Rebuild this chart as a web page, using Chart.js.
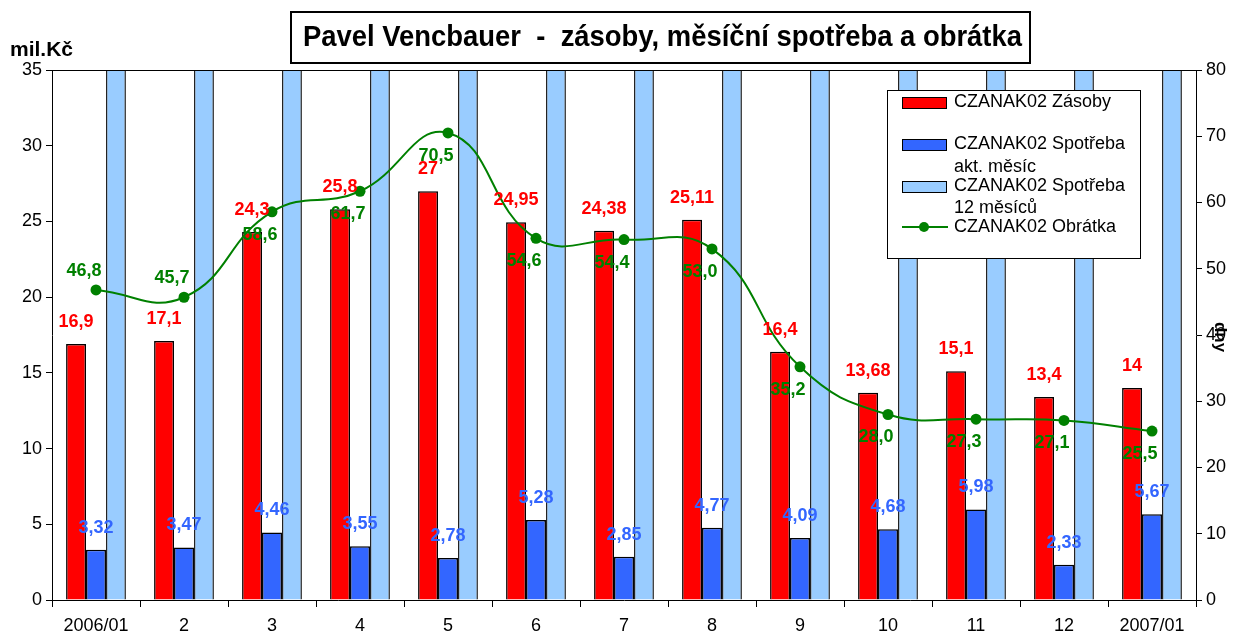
<!DOCTYPE html>
<html>
<head>
<meta charset="utf-8">
<script src="https://cdn.jsdelivr.net/npm/chart.js@4/dist/chart.umd.min.js"></script>
<style>
  body { margin: 0; background: #fff; }
  #wrap { width: 1242px; height: 635px; position: relative; }
</style>
</head>
<body>
<div id="wrap"><canvas id="chart"></canvas></div>
<script>
const months = ['2006/01', '2', '3', '4', '5', '6', '7', '8', '9', '10', '11', '12', '2007/01'];
const zasoby = [16.9, 17.1, 24.3, 25.8, 27, 24.95, 24.38, 25.11, 16.4, 13.68, 15.1, 13.4, 14];
const spotrebaMesic = [3.32, 3.47, 4.46, 3.55, 2.78, 5.28, 2.85, 4.77, 4.09, 4.68, 5.98, 2.33, 5.67];
// 12-month consumption runs off the top of the scale, values are estimates
const spotreba12 = [131.8, 136.6, 151.4, 152.6, 139.8, 166.8, 163.6, 172.9, 170.1, 178.3, 201.9, 180.5, 200.4];
const obratka = [46.8, 45.7, 58.6, 61.7, 70.5, 54.6, 54.4, 53.0, 35.2, 28.0, 27.3, 27.1, 25.5];
const leftTicks = [0, 5, 10, 15, 20, 25, 30, 35];
const rightTicks = [0, 10, 20, 30, 40, 50, 60, 70, 80];

const FONT = '"Liberation Sans", Arial, sans-serif';
Chart.defaults.font.family = FONT;
Chart.defaults.color = '#000';

// draw text squeezed/stretched to a given width
function fitText(ctx, text, x, y, width) {
  const w = ctx.measureText(text).width;
  ctx.save();
  ctx.translate(x, y);
  ctx.scale(width / w, 1);
  ctx.fillText(text, 0, 0);
  ctx.restore();
}

const labelsPlugin = {
  id: 'valueLabels',
  afterDatasetsDraw(chart) {
    const ctx = chart.ctx;
    ctx.save();
    ctx.font = 'bold 18px ' + FONT;
    ctx.textAlign = 'center';
    ctx.textBaseline = 'middle';
    chart.data.datasets.forEach((ds, di) => {
      if (!ds.labelColor) return;
      const meta = chart.getDatasetMeta(di);
      ctx.fillStyle = ds.labelColor;
      meta.data.forEach((el, i) => {
        const v = ds.data[i];
        let txt, x = el.x, y;
        if (ds.type === 'line') {
          txt = v.toFixed(1).replace('.', ',');
          x = el.x - 12;
          y = i < 2 ? el.y - 19 : el.y + 23;
        } else {
          txt = String(v).replace('.', ',');
          y = el.y - 22;
        }
        ctx.fillText(txt, x, y);
      });
    });
    ctx.restore();
  }
};

const decorPlugin = {
  id: 'decor',
  afterDraw(chart) {
    const ctx = chart.ctx;
    const a = chart.chartArea;
    ctx.save();
    // plot top border
    ctx.strokeStyle = '#000';
    ctx.lineWidth = 1;
    ctx.beginPath();
    ctx.moveTo(a.left, Math.round(a.top) + 0.5);
    ctx.lineTo(a.right, Math.round(a.top) + 0.5);
    ctx.stroke();

    // title box
    ctx.fillStyle = '#fff';
    ctx.fillRect(291, 12, 739, 51);
    ctx.lineWidth = 2;
    ctx.strokeRect(291, 12, 739, 51);
    ctx.fillStyle = '#000';
    ctx.font = 'bold 30px ' + FONT;
    ctx.textBaseline = 'middle';
    ctx.textAlign = 'left';
    fitText(ctx, 'Pavel Vencbauer  -  zásoby, měsíční spotřeba a obrátka', 303, 38, 719);

    // axis units
    ctx.font = 'bold 21px ' + FONT;
    ctx.fillText('mil.Kč', 10, 50);
    ctx.save();
    ctx.translate(1220, 337);
    ctx.rotate(Math.PI / 2);
    ctx.textAlign = 'center';
    ctx.font = 'bold 17px ' + FONT;
    ctx.fillText('dny', 0, 0);
    ctx.restore();

    // legend
    ctx.lineWidth = 1;
    ctx.fillStyle = '#fff';
    ctx.fillRect(887.5, 90.5, 253, 168);
    ctx.strokeStyle = '#000';
    ctx.strokeRect(887.5, 90.5, 253, 168);
    const ds = chart.data.datasets;
    const swatch = (color, y) => {
      ctx.fillStyle = color;
      ctx.fillRect(902, y, 44, 11);
      ctx.strokeStyle = '#000';
      ctx.strokeRect(902.5, y + 0.5, 44, 11);
    };
    swatch(ds[1].backgroundColor, 97);
    swatch(ds[2].backgroundColor, 139);
    swatch(ds[3].backgroundColor, 181);
    ctx.strokeStyle = ds[0].borderColor;
    ctx.lineWidth = 2;
    ctx.beginPath();
    ctx.moveTo(902, 227);
    ctx.lineTo(948, 227);
    ctx.stroke();
    ctx.fillStyle = ds[0].borderColor;
    ctx.beginPath();
    ctx.arc(924, 227, 5, 0, Math.PI * 2);
    ctx.fill();

    ctx.fillStyle = '#000';
    ctx.font = '18px ' + FONT;
    ctx.textAlign = 'left';
    ctx.textBaseline = 'middle';
    ctx.fillText(ds[1].label, 954, 102);
    ctx.fillText(ds[2].label, 954, 144);
    ctx.fillText('akt. měsíc', 954, 167);
    ctx.fillText(ds[3].label, 954, 186);
    ctx.fillText('12 měsíců', 954, 208);
    ctx.fillText(ds[0].label, 954, 227);
    ctx.restore();
  }
};

new Chart(document.getElementById('chart'), {
  data: {
    labels: months,
    datasets: [
      {
        type: 'line', label: 'CZANAK02 Obrátka', data: obratka, yAxisID: 'y2',
        borderColor: '#008000', backgroundColor: '#008000', borderWidth: 2,
        pointRadius: 5.5, pointBackgroundColor: '#008000', pointBorderWidth: 0,
        tension: 0.45, order: 0, labelColor: '#008000'
      },
      {
        type: 'bar', label: 'CZANAK02 Zásoby', data: zasoby, yAxisID: 'y',
        backgroundColor: '#ff0000', borderColor: '#000', borderWidth: 1.5,
        order: 1, labelColor: '#ff0000'
      },
      {
        type: 'bar', label: 'CZANAK02 Spotřeba', data: spotrebaMesic, yAxisID: 'y',
        backgroundColor: '#3366ff', borderColor: '#000', borderWidth: 1.5,
        order: 1, labelColor: '#3366ff'
      },
      {
        type: 'bar', label: 'CZANAK02 Spotřeba', data: spotreba12, yAxisID: 'y',
        backgroundColor: '#99ccff', borderColor: '#222', borderWidth: 1.5,
        order: 1
      }
    ]
  },
  options: {
    responsive: true,
    maintainAspectRatio: false,
    animation: false,
    datasets: { bar: { categoryPercentage: 0.68, barPercentage: 1 } },
    layout: { padding: { top: 70, left: 0, right: 0, bottom: 0 } },
    plugins: { legend: { display: false }, tooltip: { enabled: false } },
    scales: {
      x: {
        grid: { offset: true, drawOnChartArea: false, tickLength: 7, color: '#000' },
        border: { color: '#000', width: 1 },
        ticks: { font: { size: 18 }, color: '#000', autoSkip: false, maxRotation: 0, padding: 8 },
        afterFit(s) { s.height = 35; }
      },
      y: {
        position: 'left', min: 0, max: 35,
        afterBuildTicks(s) { s.ticks = leftTicks.map(v => ({ value: v })); },
        grid: { drawOnChartArea: false, tickLength: 6, color: '#000' },
        border: { color: '#000', width: 1 },
        ticks: { font: { size: 18 }, color: '#000', padding: 4 },
        afterFit(s) { s.width = 52; }
      },
      y2: {
        position: 'right', min: 0, max: 80,
        afterBuildTicks(s) { s.ticks = rightTicks.map(v => ({ value: v })); },
        grid: { drawOnChartArea: false, tickLength: 6, color: '#000' },
        border: { color: '#000', width: 1 },
        ticks: { font: { size: 18 }, color: '#000', padding: 4 },
        afterFit(s) { s.width = 46; }
      }
    }
  },
  plugins: [labelsPlugin, decorPlugin]
});
</script>
</body>
</html>
